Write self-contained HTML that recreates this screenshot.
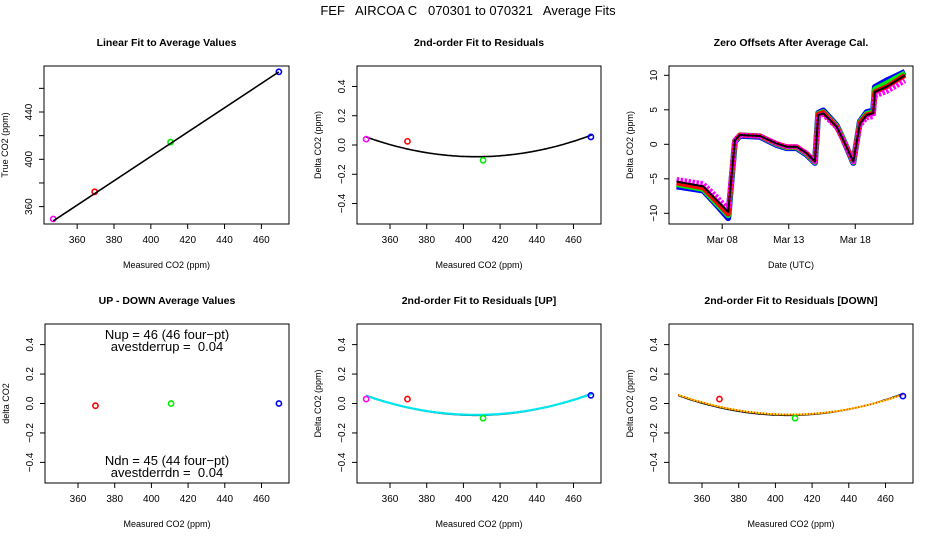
<!DOCTYPE html>
<html><head><meta charset="utf-8">
<style>
html,body{margin:0;padding:0;background:#fff;}
svg{display:block;font-family:"Liberation Sans",sans-serif;}
</style></head>
<body>
<svg id="c" width="936" height="540" viewBox="0 0 936 540" xmlns="http://www.w3.org/2000/svg">
<text x="468" y="15" text-anchor="middle" font-size="13" style="white-space:pre" xml:space="preserve">FEF   AIRCOA C   070301 to 070321   Average Fits</text>
</svg>
<script>
// ---- data ----
const xTicks = [360, 380, 400, 420, 440, 460];
const linTicks = [360, 380, 400, 420, 440, 460];
const linTickLabels = ['360', '', '400', '', '440', ''];
const resTicks = [-0.4, -0.2, 0.0, 0.2, 0.4];
const resTickLabels = ['\u22120.4', '\u22120.2', '0.0', '0.2', '0.4'];
const pointColors = ['#ff00ff', '#ff0000', '#00ee00', '#0000ff'];
const measured = [347, 369.5, 410.7, 469.5];
const trueVals = [349.5, 372.5, 414.5, 474];
const linFit = [-9.2, 1.029]; // intercept, slope
const residAll = [0.04, 0.025, -0.105, 0.055];
const residUp = [0.03, 0.03, -0.1, 0.055];
const residDn = [null, 0.03, -0.1, 0.05];
const upDownX = [369.5, 410.7, 469.5];
const upDownVals = [-0.015, 0.0, 0.0];
const upDownColors = ['#ff0000', '#00ee00', '#0000ff'];
const fitCoef = [-0.08, 407, 3.75e-5]; // min, vertex, curvature
const fitCoefUp = [-0.077, 407, 3.6e-5];
const fitCoefDn = [-0.075, 408, 3.6e-5];
const tsDays = [4.57,6.57,7.58,8.45,8.95,9.33,10.83,12.1,12.84,13.6,14.35,14.97,15.22,15.6,16.6,17.1,17.85,18.35,18.86,19.35,19.48,20.36,21.74];
const tsMean = [-5.4,-6.1,-8.1,-9.8,0.6,1.35,1.2,0.1,-0.35,-0.35,-1.3,-2.5,4.25,4.5,2.55,0.6,-2.5,3.0,4.25,4.5,7.6,8.35,10.0];
const tsBlueOff = [-0.7,-0.6,-0.7,-0.9,-0.2,-0.1,-0.1,-0.2,-0.2,-0.2,-0.2,-0.2,0.3,0.4,0.2,0.1,-0.2,0.3,0.4,0.4,0.7,0.9,0.5];
const tsGreenOff = [-0.4,-0.4,-0.5,-0.5,-0.1,0,0,-0.1,-0.1,-0.1,-0.1,-0.1,0.2,0.2,0.1,0.1,-0.1,0.2,0.2,0.2,0.4,0.5,0.3];
const tsRedOff = [-0.2,-0.2,-0.2,-0.3,0,0,0,0,0,0,0,0,0.1,0.1,0,0,0,0.1,0,0,0,0,0];
const tsMagOff = [0.3,0.4,0.5,0.4,0,0,0,0,0,0,0,0,-0.1,-0.2,-0.1,0,0,-0.3,-0.4,-0.5,-0.6,-0.7,-0.8];
const tsTicks = [8, 13, 18];
const tsTickLabels = ['Mar 08', 'Mar 13', 'Mar 18'];
const tsYTicks = [-10, -5, 0, 5, 10];
const tsYTickLabels = ['\u221210', '\u22125', '0', '5', '10'];

const NS = 'http://www.w3.org/2000/svg';
const svg = document.getElementById('c');
function mk(tag, attrs, parent) {
  const e = document.createElementNS(NS, tag);
  for (const k in attrs) e.setAttribute(k, attrs[k]);
  (parent || svg).appendChild(e);
  return e;
}
function scale(d0, d1, r0, r1) { return v => r0 + (v - d0) / (d1 - d0) * (r1 - r0); }

function panel(box, xd, yd, title, xlab, ylab, name) {
  const g = mk('g', {});
  
  
  const X = scale(xd[0], xd[1], box.l, box.r);
  const Y = scale(yd[0], yd[1], box.b, box.t);
  const r = mk('rect', {x: box.l, y: box.t, width: box.r - box.l, height: box.b - box.t, fill: 'none', stroke: '#000', 'stroke-width': 1}, g);
  
  
  const t = mk('text', {x: (box.l + box.r) / 2, y: box.t - 20, 'text-anchor': 'middle', 'font-size': 10.5, 'font-weight': 'bold'}, g);
  t.textContent = title;
  
  
  const xl = mk('text', {x: (box.l + box.r) / 2, y: box.b + 44, 'text-anchor': 'middle', 'font-size': 9}, g);
  xl.textContent = xlab;
  
  
  const yx = box.l - 36, yy = (box.t + box.b) / 2;
  const yl = mk('text', {x: yx, y: yy, 'text-anchor': 'middle', 'font-size': 9, transform: `rotate(-90 ${yx} ${yy})`}, g);
  yl.textContent = ylab;
  
  
  return {g, X, Y, box};
}
function xAxis(p, ticks, labels) {
  ticks.forEach((v, i) => {
    const x = p.X(v);
    const tk = mk('line', {x1: x, x2: x, y1: p.box.b, y2: p.box.b + 5, stroke: '#000'}, p.g);
    
    
    const lb = mk('text', {x: x, y: p.box.b + 19, 'text-anchor': 'middle', 'font-size': 10}, p.g);
    lb.textContent = labels ? labels[i] : String(v);
    
    
  });
}
function yAxis(p, ticks, labels) {
  ticks.forEach((v, i) => {
    const y = p.Y(v);
    const tk = mk('line', {x1: p.box.l - 5, x2: p.box.l, y1: y, y2: y, stroke: '#000'}, p.g);
    
    
    const lx = p.box.l - 12;
    const lb = mk('text', {x: lx, y: y, 'text-anchor': 'middle', 'font-size': 10, transform: `rotate(-90 ${lx} ${y})`}, p.g);
    lb.textContent = labels[i];
    
    
  });
}
function pt(p, x, y, col, name) {
  const c = mk('circle', {cx: p.X(x), cy: p.Y(y), r: 2.6, fill: 'none', stroke: col, 'stroke-width': 1.6}, p.g);
  
  
}
function curve(p, coef, col, w, name, dash) {
  let d = '';
  for (let x = 347; x <= 470; x += 1) {
    const y = coef[0] + coef[2] * (x - coef[1]) * (x - coef[1]);
    d += (d ? 'L' : 'M') + p.X(x).toFixed(1) + ',' + p.Y(y).toFixed(1);
  }
  const a = {d: d, fill: 'none', stroke: col, 'stroke-width': w};
  if (dash) a['stroke-dasharray'] = dash;
  const e = mk('path', a, p.g);
  
  
}
const xd = [342, 475];
const resD = [-0.54, 0.54];

// Panel 1
const p1 = panel({l: 44, r: 289, t: 66, b: 224}, xd, [345.3, 478.9], 'Linear Fit to Average Values', 'Measured CO2 (ppm)', 'True CO2 (ppm)', 'panel-linear-fit');
xAxis(p1, xTicks); yAxis(p1, linTicks, linTickLabels);
measured.forEach((m, i) => pt(p1, m, trueVals[i], pointColors[i], 'average-point'));
{
  const e = mk('line', {x1: p1.X(347), y1: p1.Y(linFit[0] + linFit[1] * 347), x2: p1.X(469.5), y2: p1.Y(linFit[0] + linFit[1] * 469.5), stroke: '#000', 'stroke-width': 1.6}, p1.g);
  
  
}

// Panel 2
const p2 = panel({l: 357, r: 601, t: 66, b: 224}, xd, resD, '2nd-order Fit to Residuals', 'Measured CO2 (ppm)', 'Delta CO2 (ppm)', 'panel-residual-fit');
xAxis(p2, xTicks); yAxis(p2, resTicks, resTickLabels);
curve(p2, fitCoef, '#000', 1.6, 'quadratic-fit-curve');
measured.forEach((m, i) => pt(p2, m, residAll[i], pointColors[i], 'residual-point'));

// Panel 3
const p3 = panel({l: 669, r: 913, t: 66, b: 224}, [4.0, 22.34], [-11.55, 11.35], 'Zero Offsets After Average Cal.', 'Date (UTC)', 'Delta CO2 (ppm)', 'panel-zero-offsets');
xAxis(p3, tsTicks, tsTickLabels); yAxis(p3, tsYTicks, tsYTickLabels);
function tsLine(off, col, w, name, dash) {
  const d = tsDays.map((t, i) => (i ? 'L' : 'M') + p3.X(t).toFixed(1) + ',' + p3.Y(tsMean[i] + (off ? off[i] : 0)).toFixed(1)).join('');
  const a = {d: d, fill: 'none', stroke: col, 'stroke-width': w, 'stroke-linejoin': 'round'};
  if (dash) a['stroke-dasharray'] = dash;
  const e = mk('path', a, p3.g);
  
  
}
tsLine(tsBlueOff, '#0000ff', 6, 'offset-series-blue');
tsLine(tsGreenOff, '#00ee00', 5.5, 'offset-series-green');
tsLine(tsRedOff, '#ff0000', 5, 'offset-series-red');
tsLine(tsMagOff, '#ff00ff', 5, 'offset-series-magenta', '2.5 1.5');
tsLine(null, '#000', 2, 'offset-series-mean');

// Panel 4
const p4 = panel({l: 45, r: 289, t: 324, b: 483}, xd, resD, 'UP - DOWN Average Values', 'Measured CO2 (ppm)', 'delta CO2', 'panel-up-down');
xAxis(p4, xTicks); yAxis(p4, resTicks, resTickLabels);
upDownX.forEach((m, i) => pt(p4, m, upDownVals[i], upDownColors[i], 'up-down-point'));
[['Nup = 46 (46 four\u2212pt)', 339], ['avestderrup =  0.04', 351], ['Ndn = 45 (44 four\u2212pt)', 465], ['avestderrdn =  0.04', 477]].forEach(a => {
  const e = mk('text', {x: 167, y: a[1], 'text-anchor': 'middle', 'font-size': 13, style: 'white-space:pre'}, p4.g);
  e.textContent = a[0];
  
  
});

// Panel 5
const p5 = panel({l: 357, r: 601, t: 324, b: 483}, xd, resD, '2nd-order Fit to Residuals [UP]', 'Measured CO2 (ppm)', 'Delta CO2 (ppm)', 'panel-residual-fit-up');
xAxis(p5, xTicks); yAxis(p5, resTicks, resTickLabels);
curve(p5, fitCoef, '#000', 1.6, 'quadratic-fit-curve');
curve(p5, fitCoefUp, '#00e5ee', 2.2, 'quadratic-fit-up-curve');
measured.forEach((m, i) => pt(p5, m, residUp[i], pointColors[i], 'residual-up-point'));

// Panel 6
const p6 = panel({l: 669, r: 913, t: 324, b: 483}, xd, resD, '2nd-order Fit to Residuals [DOWN]', 'Measured CO2 (ppm)', 'Delta CO2 (ppm)', 'panel-residual-fit-down');
xAxis(p6, xTicks); yAxis(p6, resTicks, resTickLabels);
curve(p6, fitCoef, '#000', 1.6, 'quadratic-fit-curve');
curve(p6, fitCoefDn, '#ffd700', 1.8, 'quadratic-fit-down-curve');
curve(p6, fitCoefDn, '#ff3000', 1.8, 'quadratic-fit-down-curve-dots', '1 2');
measured.forEach((m, i) => { if (residDn[i] !== null) pt(p6, m, residDn[i], pointColors[i], 'residual-down-point'); });
</script>
</body></html>
